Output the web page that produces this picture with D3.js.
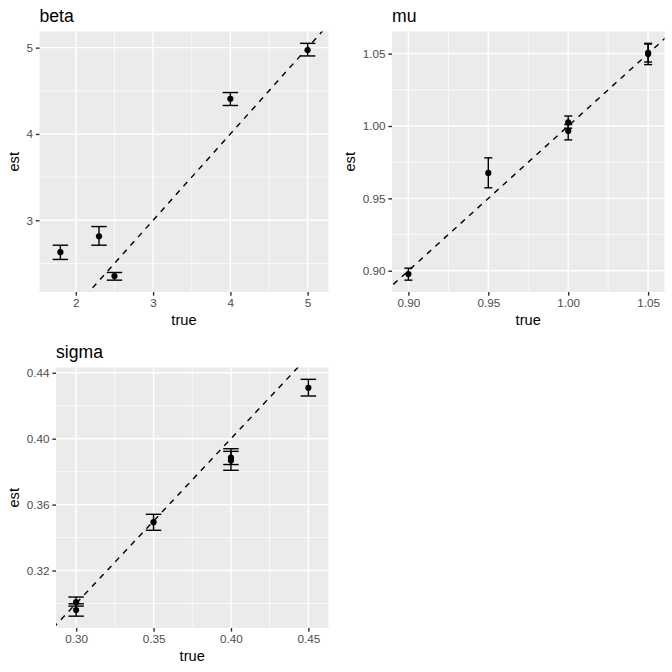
<!DOCTYPE html>
<html>
<head>
<meta charset="utf-8">
<script src="https://cdn.jsdelivr.net/npm/d3@7"></script>
<style>
  body { margin: 0; background: white; }
  svg { display: block; font-family: "Liberation Sans", Arial, sans-serif; }
</style>
</head>
<body>
<svg id="chart" width="672" height="672"></svg>
<script>
// Valeurs (true / est / bornes de l'intervalle).
const betaTrue = [1.8, 2.3, 2.5, 4, 5];
const betaEst = [2.63, 2.815, 2.353, 4.408, 4.973];
const betaLo = [2.546, 2.711, 2.306, 4.33, 4.904];
const betaHi = [2.711, 2.927, 2.395, 4.48, 5.05];
const betaXTicks = [2, 3, 4, 5];
const betaYTicks = [3, 4, 5];
const betaBarWidth = 0.2;

const muTrue = [0.90, 0.95, 1.00, 1.00, 1.05, 1.05];
const muEst = [0.8977, 0.9676, 1.0025, 0.9966, 1.0505, 1.0497];
const muLo = [0.8935, 0.9573, 0.9985, 0.9904, 1.0442, 1.0424];
const muHi = [0.9018, 0.978, 1.0069, 1.0010, 1.0571, 1.0566];
const muXTicks = [0.90, 0.95, 1.00, 1.05];
const muYTicks = [0.90, 0.95, 1.00, 1.05];
const muBarWidth = 0.005;

const sigmaTrue = [0.30, 0.30, 0.35, 0.40, 0.40, 0.45];
const sigmaEst = [0.3008, 0.2960, 0.3493, 0.3885, 0.3868, 0.4309];
const sigmaLo = [0.2984, 0.2923, 0.3444, 0.3843, 0.3808, 0.4259];
const sigmaHi = [0.3039, 0.2998, 0.3541, 0.3939, 0.3923, 0.436];
const sigmaXTicks = [0.30, 0.35, 0.40, 0.45];
const sigmaYTicks = [0.32, 0.36, 0.40, 0.44];
const sigmaBarWidth = 0.01;

const panels = [
    { name: "beta", ox: 0, oy: 0, left: 39.5, xs: betaTrue, est: betaEst, lo: betaLo, hi: betaHi,
      xTicks: betaXTicks, yTicks: betaYTicks, barWidth: betaBarWidth, fmt: d3.format("d") },
    { name: "mu", ox: 336, oy: 0, left: 56, xs: muTrue, est: muEst, lo: muLo, hi: muHi,
      xTicks: muXTicks, yTicks: muYTicks, barWidth: muBarWidth, fmt: d3.format(".2f") },
    { name: "sigma", ox: 0, oy: 336, left: 56, xs: sigmaTrue, est: sigmaEst, lo: sigmaLo, hi: sigmaHi,
      xTicks: sigmaXTicks, yTicks: sigmaYTicks, barWidth: sigmaBarWidth, fmt: d3.format(".2f") }
];

const svg = d3.select("#chart");
const lw = 1.42;

// Domaine a la ggplot : etendue des donnees + 5 % de chaque cote.
function expand(min, max) {
    const pad = (max - min) * 0.05;
    return [min - pad, max + pad];
}

// Lignes mineures : milieux entre les graduations, prolonges d'un pas.
function minorBreaks(ticks, domain) {
    const step = ticks[1] - ticks[0];
    const out = [];
    for (let i = -1; i < ticks.length; i++) {
        const v = ticks[0] + (i + 0.5) * step;
        if (v >= domain[0] && v <= domain[1]) out.push(v);
    }
    return out;
}

panels.forEach(function(p, idx) {
    const g = svg.append("g").attr("transform", "translate(" + p.ox + "," + p.oy + ")");
    const top = 31.5, bottom = 292, right = 328.5;

    const xDomain = expand(d3.min(p.xs) - p.barWidth / 2, d3.max(p.xs) + p.barWidth / 2);
    const yDomain = expand(d3.min(p.lo), d3.max(p.hi));
    const x = d3.scaleLinear().domain(xDomain).range([p.left, right]);
    const y = d3.scaleLinear().domain(yDomain).range([bottom, top]);

    const rows = p.xs.map(function(v, i) {
        return { x: v, est: p.est[i], lo: p.lo[i], hi: p.hi[i] };
    });

    g.append("rect")
        .attr("x", p.left).attr("y", top)
        .attr("width", right - p.left).attr("height", bottom - top)
        .attr("fill", "#EBEBEB");

    // Grille mineure puis majeure.
    g.selectAll(".xminor").data(minorBreaks(p.xTicks, xDomain)).enter().append("line")
        .attr("x1", x).attr("x2", x).attr("y1", top).attr("y2", bottom)
        .attr("stroke", "white").attr("stroke-width", lw / 2);
    g.selectAll(".yminor").data(minorBreaks(p.yTicks, yDomain)).enter().append("line")
        .attr("y1", y).attr("y2", y).attr("x1", p.left).attr("x2", right)
        .attr("stroke", "white").attr("stroke-width", lw / 2);
    g.selectAll(".xmajor").data(p.xTicks).enter().append("line")
        .attr("x1", x).attr("x2", x).attr("y1", top).attr("y2", bottom)
        .attr("stroke", "white").attr("stroke-width", lw);
    g.selectAll(".ymajor").data(p.yTicks).enter().append("line")
        .attr("y1", y).attr("y2", y).attr("x1", p.left).attr("x2", right)
        .attr("stroke", "white").attr("stroke-width", lw);

    // Droite y = x, coupee au panneau.
    const clipId = "clip-" + idx;
    g.append("clipPath").attr("id", clipId).append("rect")
        .attr("x", p.left).attr("y", top)
        .attr("width", right - p.left).attr("height", bottom - top);
    const lo = Math.min(xDomain[0], yDomain[0]), hi = Math.max(xDomain[1], yDomain[1]);
    g.append("line")
        .attr("clip-path", "url(#" + clipId + ")")
        .attr("x1", x(lo)).attr("y1", y(lo)).attr("x2", x(hi)).attr("y2", y(hi))
        .attr("stroke", "black").attr("stroke-width", lw)
        .attr("stroke-dasharray", (4 * lw) + "," + (4 * lw));

    // Barres d'erreur.
    const bars = g.selectAll(".bar").data(rows).enter().append("g")
        .attr("stroke", "black").attr("stroke-width", lw);
    bars.append("line")
        .attr("x1", function(d) { return x(d.x); }).attr("x2", function(d) { return x(d.x); })
        .attr("y1", function(d) { return y(d.lo); }).attr("y2", function(d) { return y(d.hi); });
    bars.append("line")
        .attr("x1", function(d) { return x(d.x - p.barWidth / 2); })
        .attr("x2", function(d) { return x(d.x + p.barWidth / 2); })
        .attr("y1", function(d) { return y(d.lo); }).attr("y2", function(d) { return y(d.lo); });
    bars.append("line")
        .attr("x1", function(d) { return x(d.x - p.barWidth / 2); })
        .attr("x2", function(d) { return x(d.x + p.barWidth / 2); })
        .attr("y1", function(d) { return y(d.hi); }).attr("y2", function(d) { return y(d.hi); });

    g.selectAll(".pt").data(rows).enter().append("circle")
        .attr("cx", function(d) { return x(d.x); })
        .attr("cy", function(d) { return y(d.est); })
        .attr("r", 3.1).attr("fill", "black");

    // Axes.
    const xAxis = g.append("g").attr("transform", "translate(0," + bottom + ")")
        .call(d3.axisBottom(x).tickValues(p.xTicks).tickFormat(p.fmt).tickSize(3.67).tickPadding(2.9));
    const yAxis = g.append("g").attr("transform", "translate(" + p.left + ",0)")
        .call(d3.axisLeft(y).tickValues(p.yTicks).tickFormat(p.fmt).tickSize(3.67).tickPadding(2.9));
    [xAxis, yAxis].forEach(function(a) {
        a.select(".domain").remove();
        a.selectAll(".tick line").attr("stroke", "#333333").attr("stroke-width", lw);
        a.selectAll(".tick text").attr("fill", "#4D4D4D").attr("font-size", 11.73)
            .attr("font-family", "Liberation Sans, Arial, sans-serif");
    });

    g.append("text")
        .attr("x", (p.left + right) / 2).attr("y", 325)
        .attr("text-anchor", "middle").attr("font-size", 14.67).attr("fill", "black")
        .text("true");
    g.append("text")
        .attr("transform", "translate(18.5," + (top + bottom) / 2 + ") rotate(-90)")
        .attr("text-anchor", "middle").attr("font-size", 14.67).attr("fill", "black")
        .text("est");
    g.append("text")
        .attr("x", p.left).attr("y", 22)
        .attr("font-size", 17.6).attr("fill", "black")
        .text(p.name);
});
</script>
</body>
</html>
